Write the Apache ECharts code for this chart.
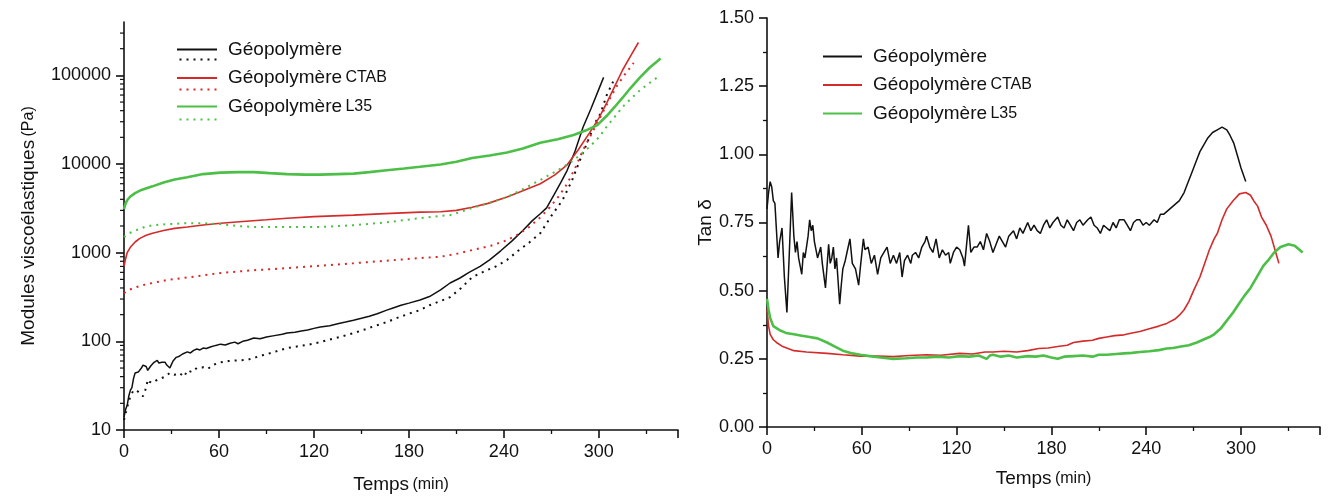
<!DOCTYPE html>
<html><head><meta charset="utf-8">
<script src="https://cdn.jsdelivr.net/npm/echarts@6/dist/echarts.min.js"></script>
<style>html,body{margin:0;padding:0;background:#fff}#c{width:1332px;height:499px}</style>
</head><body><div id="c"></div>
<script>
// ---- Left chart: viscoelastic moduli (Pa) vs time (min); solid = G', dotted = G''
const geoG1 = [[0,14],[1,17],[2,19],[3,24],[4,28],[5,30],[6,38],[7,44],[8,42],[9,45],[10,45],[11,50],[12,54],[13,55],[14,52],[15,47],[16,50],[17,53],[18,55],[19,58],[20,60],[21,61],[22,57],[23,55],[24,58],[25,60],[26,58],[27,54],[28,52],[29,50],[30,55],[31,60],[32,63],[33,66],[35,68],[37,72],[38,70],[40,76],[42,74],[44,79],[46,82],[48,80],[50,84],[52,83],[55,87],[58,90],[61,93],[64,91],[67,95],[70,98],[72,94],[75,100],[78,103],[82,109],[86,107],[90,112],[95,116],[100,120],[103,124],[108,127],[112,131],[116,134],[120,140],[124,145],[130,150],[135,158],[140,165],[145,173],[150,182],[155,192],[160,205],[166,225],[170,238],[175,255],[180,270],[187,293],[193,320],[200,380],[206,455],[212,515],[218,600],[225,700],[231,830],[238,1050],[245,1350],[252,1780],[258,2300],[263,2750],[267,3200],[272,4600],[276,6200],[280,8500],[285,14000],[290,26000],[295,42000],[300,70000],[303,95000]];
const geoG2 = [[0,13],[2,18],[4,24],[6,28],[8,28],[10,26],[12,24],[13,23],[14,30],[15,37],[16,35],[18,34],[20,36],[23,38],[26,40],[29,44],[32,42],[35,44],[38,40],[40,47],[43,45],[46,50],[50,51],[53,49],[56,54],[61,58],[66,60],[72,61],[78,62],[82,65],[88,70],[93,74],[98,79],[103,84],[110,88],[117,92],[124,98],[130,105],[138,114],[145,124],[152,136],[159,150],[166,165],[173,185],[180,205],[187,225],[193,255],[200,285],[206,315],[213,400],[220,530],[228,620],[235,700],[242,830],[249,1050],[256,1300],[263,1660],[270,2600],[277,3900],[283,6500],[288,11000],[294,20000],[298,30000],[301,37000],[305,60000],[309,85000]];
const ctabG1 = [[0,700],[1,850],[2,1000],[4,1150],[7,1320],[10,1450],[14,1570],[18,1660],[25,1780],[32,1880],[40,1950],[50,2050],[61,2150],[75,2250],[90,2350],[103,2450],[120,2550],[145,2650],[165,2760],[187,2870],[200,2900],[210,3000],[220,3250],[230,3600],[242,4250],[252,5000],[263,6000],[272,7500],[280,9800],[287,14500],[294,22300],[300,33000],[305,49000],[310,75000],[315,115000],[320,165000],[325,235000]];
const ctabG2 = [[0,350],[3,380],[8,410],[13,435],[18,455],[28,495],[40,525],[50,555],[61,590],[80,630],[103,670],[125,715],[145,760],[165,810],[187,870],[200,900],[210,970],[220,1070],[232,1200],[242,1380],[250,1650],[256,1950],[263,2500],[269,3250],[275,4400],[280,6000],[285,9000],[290,14400],[296,23000],[301,34000],[306,51000],[311,74000],[316,100000],[322,138000]];
const l35G1 = [[0,3100],[1,3600],[2,3900],[4,4300],[7,4700],[11,5100],[18,5600],[25,6200],[32,6700],[40,7100],[50,7700],[61,8000],[72,8100],[82,8100],[92,7900],[103,7700],[114,7600],[124,7600],[135,7700],[145,7800],[155,8100],[166,8500],[177,8900],[187,9300],[200,9900],[210,10600],[220,11700],[231,12500],[242,13500],[252,15000],[263,17400],[274,19000],[284,21300],[292,24000],[299,27500],[305,35000],[310,44000],[315,56000],[320,72000],[326,95000],[332,122000],[339,155000]];
const l35G2 = [[0,1500],[3,1650],[8,1800],[13,1950],[18,2040],[28,2100],[40,2150],[50,2150],[61,2100],[72,2000],[82,1950],[103,1950],[124,1950],[145,2040],[166,2200],[187,2450],[200,2600],[206,2650],[213,2900],[220,3200],[231,3650],[242,4250],[252,5200],[263,6600],[274,8500],[284,11000],[294,15500],[300,20000],[305,26500],[310,34000],[315,44000],[320,54000],[326,68000],[332,82000],[338,98000]];
const logMinorTicks = [20,30,40,50,60,70,80,90,200,300,400,500,600,700,800,900,2000,3000,4000,5000,6000,7000,8000,9000,20000,30000,40000,50000,60000,70000,80000,90000,200000,300000];

// ---- Right chart: tan delta vs time (min)
const geoTan = [[0,0.80],[1,0.86],[2,0.90],[3,0.88],[4,0.83],[5,0.82],[6,0.72],[7,0.62],[8,0.68],[9.5,0.73],[11,0.55],[12.6,0.42],[14,0.62],[15.6,0.86],[17,0.70],[18,0.64],[19,0.68],[20,0.62],[22,0.56],[23,0.64],[24,0.62],[26,0.70],[27,0.76],[28,0.72],[29,0.74],[30,0.68],[32,0.62],[34,0.66],[35,0.60],[37,0.51],[39,0.67],[40,0.60],[41,0.62],[42,0.66],[43,0.58],[44,0.62],[46,0.45],[47,0.52],[48,0.58],[49.5,0.61],[51,0.65],[52.5,0.69],[54,0.60],[56,0.58],[58,0.52],[59,0.58],[61,0.69],[62,0.65],[64,0.66],[66,0.60],[68,0.63],[70,0.56],[72,0.62],[74,0.64],[76,0.66],[78,0.60],[80,0.63],[82,0.60],[84,0.64],[85.5,0.55],[87,0.61],[89,0.63],[91,0.60],[92,0.63],[94,0.64],[96,0.62],[98,0.66],[100,0.68],[101,0.70],[103,0.66],[105,0.64],[107,0.69],[109,0.62],[111,0.65],[113,0.63],[115,0.64],[116,0.60],[118,0.64],[120,0.66],[122,0.65],[124,0.62],[125,0.59],[126.5,0.68],[127.5,0.74],[129,0.64],[131,0.66],[133,0.66],[135,0.68],[137,0.65],[139,0.71],[141,0.68],[143,0.64],[145,0.67],[147,0.70],[149,0.68],[151,0.66],[153,0.70],[156,0.72],[158,0.69],[160,0.73],[162,0.71],[165,0.75],[167,0.72],[169,0.74],[171,0.72],[173,0.71],[175,0.74],[177,0.76],[179,0.73],[181,0.75],[184,0.77],[186,0.74],[188,0.73],[190,0.76],[192,0.74],[194,0.72],[196,0.75],[198,0.76],[200,0.74],[203,0.76],[205,0.77],[207,0.74],[209,0.73],[211,0.71],[213,0.74],[215,0.73],[217,0.72],[219,0.75],[221,0.73],[223,0.76],[226,0.76],[228,0.74],[230,0.72],[232,0.75],[234,0.76],[236,0.76],[238,0.74],[240,0.75],[242,0.74],[245,0.76],[247,0.75],[249,0.78],[251,0.78],[253,0.79],[255,0.80],[257,0.81],[259,0.82],[261,0.83],[264,0.86],[266,0.89],[268,0.92],[270,0.95],[272,0.98],[274,1.01],[276,1.03],[279,1.06],[282,1.08],[285,1.09],[288,1.10],[291,1.09],[293,1.07],[295.5,1.04],[298,0.99],[300,0.95],[303,0.90]];
const ctabTan = [[0,0.43],[1,0.37],[2,0.34],[4,0.32],[6,0.31],[10,0.295],[17,0.28],[25,0.275],[38,0.27],[48,0.265],[59,0.26],[70,0.26],[80,0.258],[90,0.262],[101,0.265],[110,0.263],[122,0.27],[130,0.268],[138,0.275],[143,0.275],[150,0.278],[158,0.275],[165,0.28],[172,0.288],[178,0.29],[184,0.295],[190,0.30],[194,0.31],[200,0.315],[206,0.318],[210,0.325],[215,0.33],[220,0.335],[226,0.338],[231,0.345],[236,0.35],[242,0.36],[248,0.37],[253,0.38],[258,0.395],[261,0.41],[264,0.43],[267,0.46],[270,0.50],[274,0.55],[277,0.60],[280,0.65],[283,0.69],[285,0.71],[288,0.76],[291,0.80],[295,0.83],[299,0.855],[303,0.86],[306,0.85],[308,0.83],[310.5,0.81],[313,0.77],[316,0.74],[319,0.70],[322,0.64],[324,0.60]];
const l35Tan = [[0,0.47],[1,0.43],[2,0.40],[4,0.37],[8,0.355],[12,0.345],[17,0.34],[22,0.335],[27,0.33],[32,0.325],[38,0.31],[43,0.295],[48,0.28],[54,0.27],[59,0.265],[65,0.26],[72,0.255],[80,0.25],[88,0.252],[95,0.255],[101,0.255],[108,0.258],[115,0.255],[122,0.26],[128,0.258],[134,0.262],[139,0.25],[141,0.262],[143,0.265],[148,0.258],[153,0.262],[158,0.255],[165,0.26],[170,0.258],[175,0.262],[180,0.255],[184,0.25],[188,0.258],[194,0.26],[200,0.262],[206,0.258],[210,0.265],[215,0.265],[221,0.268],[226,0.27],[231,0.272],[236,0.275],[242,0.278],[248,0.282],[253,0.288],[257,0.29],[262,0.295],[267,0.30],[272,0.31],[276,0.32],[280,0.33],[283,0.34],[287,0.36],[291,0.39],[295,0.42],[299,0.455],[302,0.48],[306,0.51],[310,0.55],[314,0.59],[317,0.61],[321,0.64],[325,0.66],[330,0.67],[334,0.665],[337,0.65],[339,0.64]];

const seriesNames = ['Géopolymère', 'Géopolymère CTAB', 'Géopolymère L35'];
const xTicksInterval = 60;

const BLACK = '#111111', RED = '#d42a2a', GREEN = '#4cbf47';
const FONT = '"Liberation Sans", Arial, sans-serif';

const chart = echarts.init(document.getElementById('c'), null, {renderer: 'canvas'});

function legendFmt(n) {
  const parts = n.split(' ');
  return parts.length > 1 ? '{a|' + parts[0] + '} {b|' + parts[1] + '}' : '{a|' + n + '}';
}
const legendText = {
  fontFamily: FONT, color: '#111', padding: [0, 0, 0, 6],
  rich: { a: {fontSize: 19, fontFamily: FONT, color: '#111', lineHeight: 20}, b: {fontSize: 16, fontFamily: FONT, color: '#111', lineHeight: 20} }
};
function axisCommon() {
  return {
    axisLine: {show: true, onZero: false, lineStyle: {color: '#111', width: 1.6}},
    axisTick: {show: true, inside: false, length: 8, lineStyle: {color: '#111', width: 1.6}},
    minorTick: {show: true, splitNumber: 2, length: 4, lineStyle: {color: '#111', width: 1.3}},
    splitLine: {show: false},
    axisLabel: {fontFamily: FONT, fontSize: 18, color: '#111', margin: 13, showMaxLabel: false}
  };
}
const nameRich = { a: {fontSize: 19, fontFamily: FONT, color: '#111'}, b: {fontSize: 16, fontFamily: FONT, color: '#111'} };

function line(name, data, color, width, x, dotted) {
  return {
    name: name, type: 'line', data: data, xAxisIndex: x, yAxisIndex: x,
    showSymbol: false, symbol: 'none', smooth: false, silent: true, animation: false,
    lineStyle: {color: color, width: width, type: dotted ? [2, 5] : 'solid'},
    itemStyle: {color: color}, z: 3
  };
}
function legendData() {
  return seriesNames.map((n, i) => ({name: n, icon: 'rect', itemStyle: {color: [BLACK, RED, GREEN][i]}}));
}

const option = {
  animation: false,
  backgroundColor: '#fff',
  textStyle: {fontFamily: FONT},
  grid: [
    {left: 124, top: 22, width: 554, height: 408},
    {left: 767, top: 18, width: 553, height: 409}
  ],
  legend: [
    {data: legendData(), orient: 'vertical', left: 177, top: 40, padding: 0, itemGap: 9.5,
     itemWidth: 40, itemHeight: 2, formatter: legendFmt, textStyle: legendText, selectedMode: false},
    {data: legendData(), orient: 'vertical', left: 823, top: 47, padding: 0, itemGap: 9.5,
     itemWidth: 39, itemHeight: 2, formatter: legendFmt, textStyle: legendText, selectedMode: false}
  ],
  xAxis: [
    Object.assign(axisCommon(), {gridIndex: 0, type: 'value', min: 0, max: 350, interval: xTicksInterval,
      name: '{a|Temps} {b|(min)}', nameLocation: 'middle', nameGap: 45, nameTextStyle: {rich: nameRich}}),
    Object.assign(axisCommon(), {gridIndex: 1, type: 'value', min: 0, max: 350, interval: xTicksInterval,
      name: '{a|Temps} {b|(min)}', nameLocation: 'middle', nameGap: 42, nameTextStyle: {rich: nameRich}})
  ],
  yAxis: [
    Object.assign(axisCommon(), {gridIndex: 0, type: 'log', logBase: 10, min: 10, max: 400000,
      minorTick: {show: false},
      axisLabel: {fontFamily: FONT, fontSize: 18, color: '#111', margin: 13, showMaxLabel: false,
        formatter: v => String(Math.round(v))},
      name: '{a|Modules viscoélastiques} {b|(Pa)}', nameLocation: 'middle', nameGap: 86, nameRotate: 90,
      nameTextStyle: {rich: nameRich}}),
    Object.assign(axisCommon(), {gridIndex: 1, type: 'value', min: 0, max: 1.5, interval: 0.25,
      axisLabel: {fontFamily: FONT, fontSize: 18, color: '#111', margin: 13, formatter: v => v.toFixed(2)},
      name: 'Tan δ', nameLocation: 'middle', nameGap: 52, nameRotate: 90,
      nameTextStyle: {fontSize: 19, fontFamily: FONT, color: '#111'}})
  ],
  series: [
    line(seriesNames[0], geoG1, BLACK, 1.5, 0, false),
    line('Géopolymère G\'\'', geoG2, BLACK, 2, 0, true),
    line(seriesNames[1], ctabG1, RED, 1.6, 0, false),
    line('Géopolymère CTAB G\'\'', ctabG2, RED, 2, 0, true),
    line(seriesNames[2], l35G1, GREEN, 2.6, 0, false),
    line('Géopolymère L35 G\'\'', l35G2, GREEN, 2, 0, true),
    line(seriesNames[0], geoTan, BLACK, 1.5, 1, false),
    line(seriesNames[1], ctabTan, RED, 1.6, 1, false),
    line(seriesNames[2], l35Tan, GREEN, 2.6, 1, false),
    {
      name: 'minor ticks', type: 'custom', xAxisIndex: 0, yAxisIndex: 0, clip: false, silent: true,
      data: logMinorTicks.map(v => [0, v]),
      renderItem: function (params, api) {
        const p = api.coord([api.value(0), api.value(1)]);
        return {type: 'line', shape: {x1: p[0] - 4, y1: p[1], x2: p[0], y2: p[1]},
                style: {stroke: '#111', lineWidth: 1.2}};
      }
    }
  ],
  graphic: [
    {type: 'line', left: 177, top: 57, shape: {x1: 0, y1: 0, x2: 40, y2: 0}, style: {stroke: BLACK, lineWidth: 2, lineDash: [2, 5]}},
    {type: 'line', left: 177, top: 87, shape: {x1: 0, y1: 0, x2: 40, y2: 0}, style: {stroke: RED, lineWidth: 2, lineDash: [2, 5]}},
    {type: 'line', left: 177, top: 117, shape: {x1: 0, y1: 0, x2: 40, y2: 0}, style: {stroke: GREEN, lineWidth: 2, lineDash: [2, 5]}}
  ]
};
chart.setOption(option);
</script>
</body></html>
